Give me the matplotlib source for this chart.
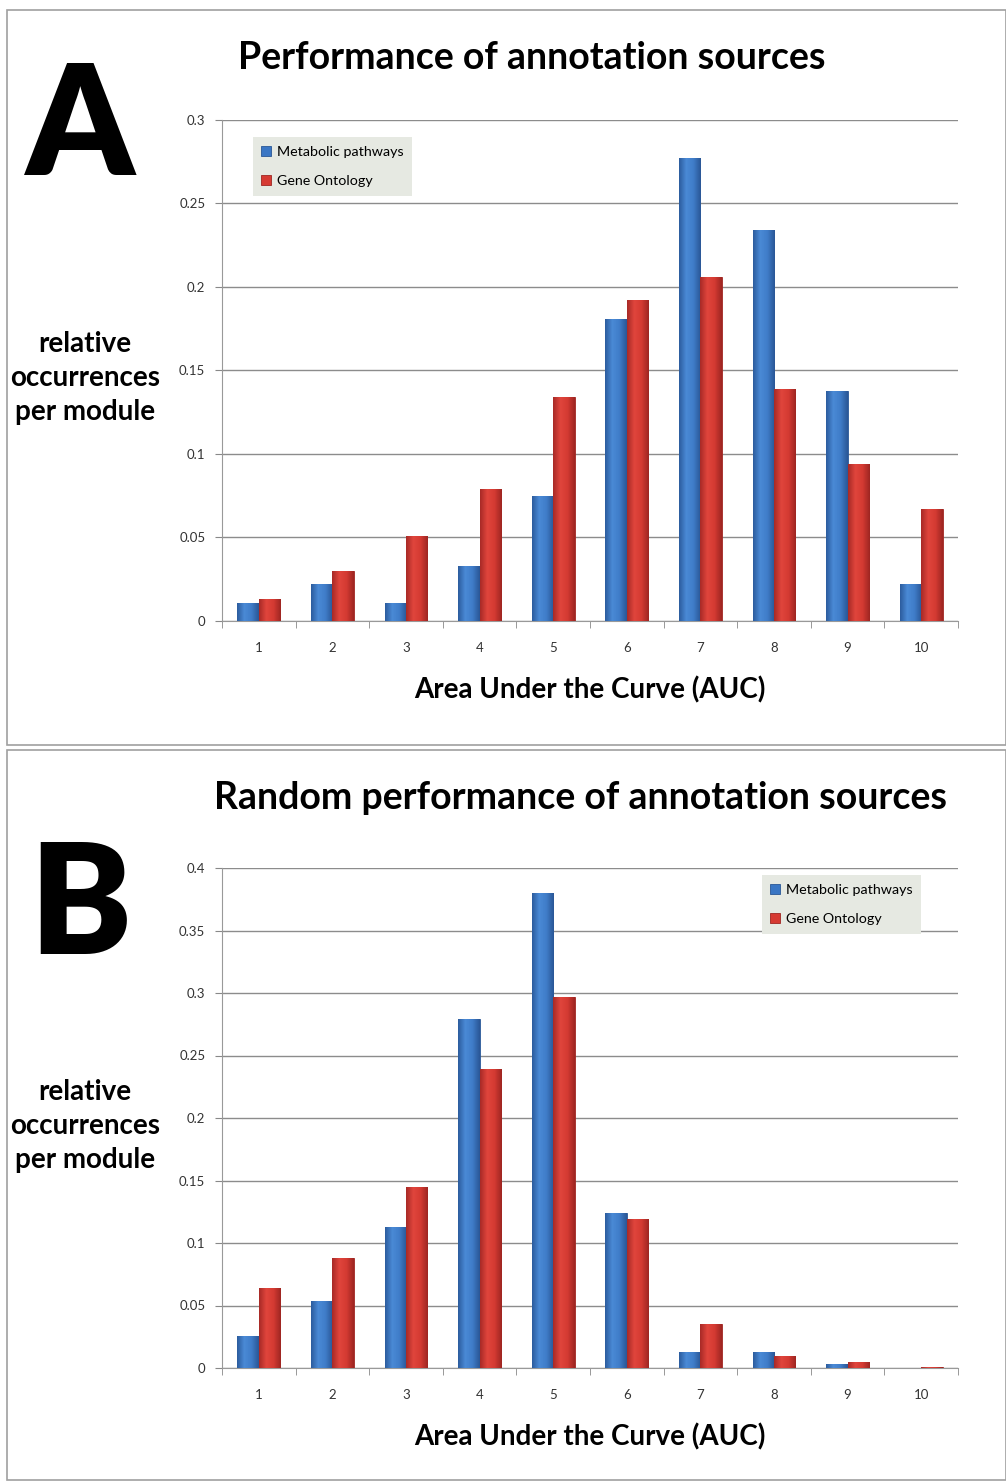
import numpy as np
import matplotlib
matplotlib.use("Agg")
import matplotlib.pyplot as plt
from matplotlib.patches import Rectangle
from matplotlib.colors import LinearSegmentedColormap

plt.rcParams['font.family'] = ['Lato', 'DejaVu Sans']

categories = [str(i) for i in range(1, 11)]
series_names = ['Metabolic pathways', 'Gene Ontology']

# panel A - real performance
a_metabolic = [0.011, 0.022, 0.011, 0.033, 0.075, 0.181, 0.277, 0.234, 0.138, 0.022]
a_gene_ont = [0.013, 0.030, 0.051, 0.079, 0.134, 0.192, 0.206, 0.139, 0.094, 0.067]

# panel B - random performance
b_metabolic = [0.026, 0.054, 0.113, 0.279, 0.380, 0.124, 0.013, 0.013, 0.003, 0.0]
b_gene_ont = [0.064, 0.088, 0.145, 0.239, 0.297, 0.119, 0.035, 0.010, 0.005, 0.001]

W, H = 1006, 1483
fig = plt.figure(figsize=(W / 100, H / 100), dpi=100)
fig.patch.set_facecolor('white')

blue_cm = LinearSegmentedColormap.from_list('b', ['#2c5c9e', '#4a8ad6', '#3f7cc8', '#2a5796'])
red_cm = LinearSegmentedColormap.from_list('r', ['#a82a26', '#e0453c', '#d43a32', '#9e2622'])
grad = np.linspace(0, 1, 64).reshape(1, -1)


def px(x0, y0, w, h):
    # pixel box (top-left origin) -> figure fraction
    return [x0 / W, 1 - (y0 + h) / H, w / W, h / H]


def panel(box, title, letter, title_x, title_y, letter_y, ax_box, m, g, ymax, yticks, leg_loc, leg_anchor):
    fig.patches.append(Rectangle((box[0] / W, 1 - box[3] / H), (box[2] - box[0]) / W,
                                 (box[3] - box[1]) / H, transform=fig.transFigure,
                                 fill=False, edgecolor='#a0a0a0', lw=1.2))
    fig.text(title_x / W, 1 - title_y / H, title, ha='center', va='center',
             fontsize=27, fontweight='bold', color='black')
    fig.text(80 / W, 1 - letter_y / H, letter, ha='center', va='center',
             fontsize=110, fontweight='heavy', color='black')
    fig.text(85 / W, 1 - (ax_box[1] + 258) / H, 'relative\noccurrences\nper module',
             ha='center', va='center', fontsize=20, fontweight='bold', linespacing=1.4)

    ax = fig.add_axes(px(*ax_box))
    x = np.arange(len(categories))
    bw = 0.29
    bars_m = ax.bar(x - bw / 2, m, bw, color='#3a76c4', edgecolor='#2a5796', lw=0.6,
                    label=series_names[0], zorder=3)
    bars_g = ax.bar(x + bw / 2, g, bw, color='#d63a32', edgecolor='#9e2622', lw=0.6,
                    label=series_names[1], zorder=3)
    for bars, cm in ((bars_m, blue_cm), (bars_g, red_cm)):
        for b in bars:
            if b.get_height() <= 0:
                continue
            im = ax.imshow(grad, cmap=cm, aspect='auto', zorder=3.5,
                           extent=[b.get_x(), b.get_x() + b.get_width(), 0, b.get_height()])
            im.set_clip_path(b)
    ax.set_xlim(-0.5, len(categories) - 0.5)
    ax.set_ylim(0, ymax)
    ax.set_aspect('auto')
    ax.set_yticks(yticks)
    ax.set_yticklabels([('%g' % t) for t in yticks], fontsize=9.5, color='#333333')
    ax.set_xticks(x)
    ax.set_xticklabels(categories, fontsize=9.5, color='#333333')
    ax.set_xticks(np.arange(-0.5, len(categories)), minor=True)
    ax.tick_params(axis='x', which='major', length=0, pad=15)
    ax.tick_params(axis='x', which='minor', length=5, color='#888888', direction='out')
    ax.tick_params(axis='y', length=5, color='#888888', pad=7)
    ax.grid(axis='y', color='#8c8c8c', lw=1, zorder=0)
    for s in ['top', 'right']:
        ax.spines[s].set_visible(False)
    ax.spines['left'].set_color('#999999')
    ax.spines['bottom'].set_color('#999999')
    ax.set_xlabel('Area Under the Curve (AUC)', fontsize=20, fontweight='bold', labelpad=16)
    leg = ax.legend(loc=leg_loc, bbox_to_anchor=leg_anchor, fontsize=10.3, frameon=True,
                    facecolor='#e6e9e2', edgecolor='none', framealpha=1, fancybox=False,
                    handlelength=0.7, handleheight=0.7, handletextpad=0.4,
                    labelspacing=1.2, borderpad=0.6)
    leg.get_frame().set_linewidth(0)
    return ax


panel((7, 10, 1006, 745), 'Performance of annotation sources', 'A', 532, 58, 118 + 12,
      (222, 120, 736, 501), a_metabolic, a_gene_ont, 0.3,
      [0, 0.05, 0.1, 0.15, 0.2, 0.25, 0.3], 'upper left', (0.032, 0.98))
panel((7, 750, 1006, 1480), 'Random performance of annotation sources', 'B', 581, 798, 895 + 14,
      (222, 868, 736, 500), b_metabolic, b_gene_ont, 0.4,
      [0, 0.05, 0.1, 0.15, 0.2, 0.25, 0.3, 0.35, 0.4], 'upper right', (0.96, 1.0))

fig.savefig('out.png', dpi=100)
